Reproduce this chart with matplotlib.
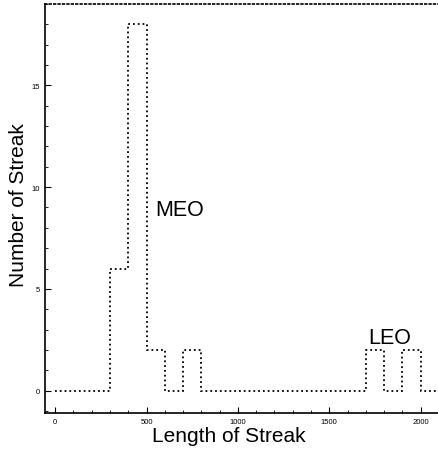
import numpy as np
import matplotlib
matplotlib.use('Agg')
import matplotlib.pyplot as plt
from matplotlib.ticker import MultipleLocator

# Histogram of streak lengths, 100-wide bins from 0 to 2100
edges = np.arange(0, 2200, 100)
counts = [0, 0, 0, 6, 18, 2, 0, 2, 0, 0, 0,
          0, 0, 0, 0, 0, 0, 2, 0, 2, 0]

plt.rcParams['font.family'] = ['Liberation Sans', 'DejaVu Sans']

fig = plt.figure(figsize=(4.38, 4.52), dpi=100)
ax = fig.add_axes([0.103, 0.084, 0.92, 0.905])

ax.stairs(counts, edges, color='black', linestyle=':', linewidth=1.3)

ax.set_xlim(-55, 2150)
ax.set_ylim(-1.1, 19)

ax.xaxis.set_major_locator(MultipleLocator(500))
ax.xaxis.set_minor_locator(MultipleLocator(100))
ax.yaxis.set_major_locator(MultipleLocator(5))
ax.yaxis.set_minor_locator(MultipleLocator(1))
ax.tick_params(which='both', direction='in', labelsize=5.5, top=False, right=False)
ax.tick_params(which='major', length=4)
ax.tick_params(which='minor', length=2)

ax.spines['top'].set_linestyle(':')
ax.spines['right'].set_visible(False)
for s in ['left', 'bottom', 'top']:
    ax.spines[s].set_linewidth(1.2)

ax.set_xlabel('Length of Streak', fontsize=15, labelpad=1, x=0.457)
ax.set_ylabel('Number of Streak', fontsize=15, labelpad=3, y=0.51)

ax.text(550, 8.9, 'MEO', fontsize=15.5, va='center')
ax.text(1715, 2.6, 'LEO', fontsize=15.5, va='center')

fig.savefig('out.png', dpi=100)
